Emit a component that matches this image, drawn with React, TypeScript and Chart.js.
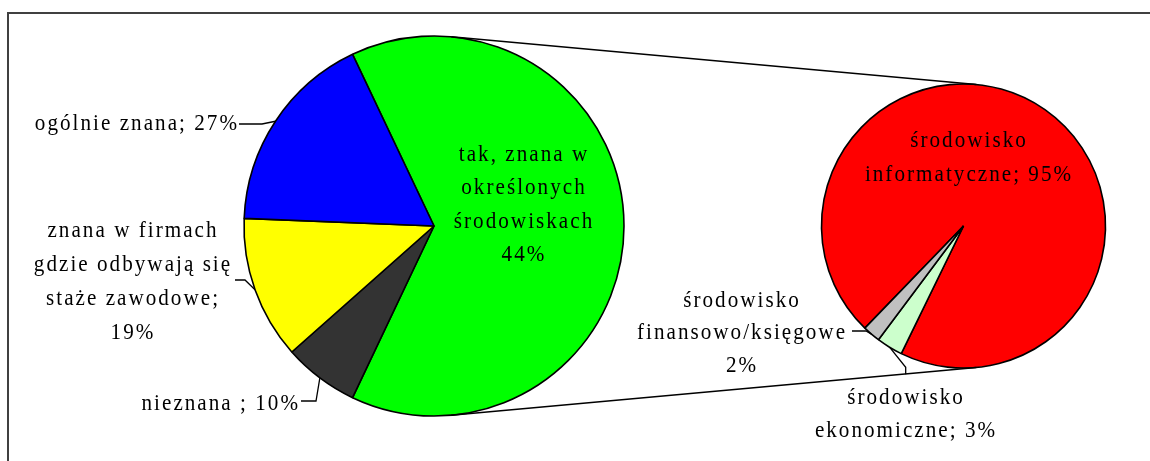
import React, { useEffect, useRef } from 'react';
import { Chart, registerables } from 'chart.js';

Chart.register(...registerables);

// ---- data ----
const mainCategories = ['ogólnie znana', 'znana w firmach gdzie odbywają się staże zawodowe', 'nieznana'];
const mainValues = [27, 19, 10];
const otherCategory = 'tak, znana w określonych środowiskach';
const subCategories = ['środowisko informatyczne', 'środowisko ekonomiczne', 'środowisko finansowo/księgowe'];
const subValues = [95, 3, 2];

const mainLabelLines = [
  ['ogólnie znana; 27%'],
  ['znana w firmach', 'gdzie odbywają się', 'staże zawodowe;', '19%'],
  ['nieznana ; 10%'],
];
const otherLabelLines = ['tak, znana w', 'określonych', 'środowiskach', '44%'];
const subLabelLines = [
  ['środowisko', 'informatyczne; 95%'],
  ['środowisko', 'ekonomiczne; 3%'],
  ['środowisko', 'finansowo/księgowe', '2%'],
];

// ---- styles ----
const mainColors = ['#0000FF', '#FFFF00', '#333333'];
const otherColor = '#00FF00';
const subColors = ['#FF0000', '#CCFFCC', '#C0C0C0'];
const FONT = '24px "Liberation Serif", "Times New Roman", serif';
const LETTER_SPACING = '2.3px';
const X_SCALE = 0.88;

type LabelStyle = {
  dx: number;
  dy: number;
  align: CanvasTextAlign;
  lh: number;
  leader?: [number, number][];
};

// label placement relative to pie centre (style, not data)
const mainLabelStyles: LabelStyle[] = [
  { dx: -197, dy: -96, align: 'right', lh: 34, leader: [[-195, -102], [-172, -102]] },
  { dx: -302, dy: 11, align: 'center', lh: 34, leader: [[-199, 54], [-189, 54]] },
  { dx: -136, dy: 184, align: 'right', lh: 34, leader: [[-133, 175], [-118, 175]] },
];
const otherLabelStyle: LabelStyle = { dx: 89, dy: -65, align: 'center', lh: 33.4 };
const subLabelStyles: LabelStyle[] = [
  { dx: 4.5, dy: -79, align: 'center', lh: 34 },
  { dx: -58.5, dy: 178.3, align: 'center', lh: 32.4, leader: [[-57.8, 148.3], [-57.8, 141.3]] },
  { dx: -222.5, dy: 80.7, align: 'center', lh: 32.5, leader: [[-111.5, 105], [-97.5, 105]] },
];
const SUB_ROTATION = 224;

function drawLabel(ctx: CanvasRenderingContext2D, arc: any, lines: string[], st: LabelStyle) {
  const { x, y, startAngle, endAngle, outerRadius } = arc.getProps(
    ['x', 'y', 'startAngle', 'endAngle', 'outerRadius'],
    true
  );
  ctx.save();
  if (st.leader) {
    const mid = (startAngle + endAngle) / 2;
    ctx.beginPath();
    st.leader.forEach(([lx, ly], i) => {
      if (i === 0) ctx.moveTo(x + lx, y + ly);
      else ctx.lineTo(x + lx, y + ly);
    });
    ctx.lineTo(x + Math.cos(mid) * outerRadius, y + Math.sin(mid) * outerRadius);
    ctx.strokeStyle = '#000';
    ctx.lineWidth = 1.3;
    ctx.stroke();
  }
  ctx.font = FONT;
  (ctx as any).letterSpacing = LETTER_SPACING;
  ctx.fillStyle = '#000';
  ctx.textAlign = st.align;
  ctx.textBaseline = 'alphabetic';
  const trail = st.align === 'right' ? 2.3 : st.align === 'center' ? 1.15 : 0;
  lines.forEach((line, i) => {
    ctx.save();
    ctx.translate(x + st.dx, y + st.dy + i * st.lh);
    ctx.scale(X_SCALE, 1);
    ctx.fillText(line, trail, 0);
    ctx.restore();
  });
  ctx.restore();
}

export default function App() {
  const mainRef = useRef<HTMLCanvasElement>(null);
  const subRef = useRef<HTMLCanvasElement>(null);

  useEffect(() => {
    if (!mainRef.current || !subRef.current) return;
    const otherTotal = subValues.reduce((a, b) => a + b, 0);
    const mainTotal = mainValues.reduce((a, b) => a + b, 0) + otherTotal;
    const mainRotation = 90 - (otherTotal / mainTotal) * 360 / 2;

    // clockwise order: other, then main categories reversed
    const order = [-1, 2, 1, 0];
    const mainData = order.map((i) => (i < 0 ? otherTotal : mainValues[i]));
    const mainBg = order.map((i) => (i < 0 ? otherColor : mainColors[i]));
    const mainLbls = order.map((i) => (i < 0 ? otherCategory : mainCategories[i]));

    const framePlugin = {
      id: 'frame',
      beforeDraw(chart: any) {
        const ctx = chart.ctx;
        ctx.save();
        ctx.strokeStyle = '#404040';
        ctx.lineWidth = 2;
        ctx.beginPath();
        ctx.moveTo(8, 470);
        ctx.lineTo(8, 13);
        ctx.lineTo(1160, 13);
        ctx.stroke();
        ctx.restore();
      },
    };

    const mainLabelPlugin = {
      id: 'mainLabels',
      afterDatasetsDraw(chart: any) {
        const meta = chart.getDatasetMeta(0);
        const ctx = chart.ctx;
        order.forEach((ci, idx) => {
          const arc = meta.data[idx];
          if (ci < 0) drawLabel(ctx, arc, otherLabelLines, otherLabelStyle);
          else drawLabel(ctx, arc, mainLabelLines[ci], mainLabelStyles[ci]);
        });
      },
    };

    const mainChart = new Chart(mainRef.current, {
      type: 'pie',
      data: {
        labels: mainLbls,
        datasets: [
          {
            data: mainData,
            backgroundColor: mainBg,
            borderColor: '#000',
            borderWidth: 1.6,
          },
        ],
      },
      options: {
        animation: false,
        responsive: true,
        maintainAspectRatio: false,
        events: [],
        rotation: mainRotation,
        radius: 190,
        layout: { padding: { left: 244, right: 526, top: 36, bottom: 45 } },
        plugins: { legend: { display: false }, tooltip: { enabled: false } },
      },
      plugins: [framePlugin, mainLabelPlugin],
    });

    const connectorPlugin = {
      id: 'connectors',
      afterDraw(chart: any) {
        const a: any = mainChart.getDatasetMeta(0).data[0];
        const b: any = chart.getDatasetMeta(0).data[0];
        if (!a || !b) return;
        const p1 = a.getProps(['x', 'y', 'outerRadius'], true);
        const p2 = b.getProps(['x', 'y', 'outerRadius'], true);
        const dxv = p2.x - p1.x;
        const dyv = p2.y - p1.y;
        const d = Math.hypot(dxv, dyv);
        const ux = dxv / d;
        const uy = dyv / d;
        const k = (p2.outerRadius - p1.outerRadius) / d;
        const s = Math.sqrt(Math.max(0, 1 - k * k));
        const ctx = chart.ctx;
        ctx.save();
        ctx.strokeStyle = '#000';
        ctx.lineWidth = 1.5;
        [1, -1].forEach((sign) => {
          const nx = k * ux - sign * s * uy;
          const ny = k * uy + sign * s * ux;
          ctx.beginPath();
          ctx.moveTo(p1.x - p1.outerRadius * nx, p1.y - p1.outerRadius * ny);
          ctx.lineTo(p2.x - p2.outerRadius * nx, p2.y - p2.outerRadius * ny);
          ctx.stroke();
        });
        ctx.restore();
      },
    };

    const subLabelPlugin = {
      id: 'subLabels',
      afterDatasetsDraw(chart: any) {
        const meta = chart.getDatasetMeta(0);
        const ctx = chart.ctx;
        subLabelLines.forEach((lines, i) => drawLabel(ctx, meta.data[i], lines, subLabelStyles[i]));
      },
    };

    const subChart = new Chart(subRef.current, {
      type: 'pie',
      data: {
        labels: subCategories,
        datasets: [
          {
            data: subValues,
            backgroundColor: subColors,
            borderColor: '#000',
            borderWidth: 1.6,
          },
        ],
      },
      options: {
        animation: false,
        responsive: true,
        maintainAspectRatio: false,
        events: [],
        rotation: SUB_ROTATION,
        radius: 142,
        layout: { padding: { left: 821, right: 44, top: 84, bottom: 93 } },
        plugins: { legend: { display: false }, tooltip: { enabled: false } },
      },
      plugins: [connectorPlugin, subLabelPlugin],
    });

    return () => {
      subChart.destroy();
      mainChart.destroy();
    };
  }, []);

  const layer: React.CSSProperties = { position: 'absolute', left: 0, top: 0, width: 1150, height: 461 };
  return (
    <div style={{ position: 'absolute', left: 0, top: 0, width: 1150, height: 461, background: '#fff', overflow: 'hidden' }}>
      <div style={layer}>
        <canvas ref={mainRef} />
      </div>
      <div style={layer}>
        <canvas ref={subRef} />
      </div>
    </div>
  );
}
